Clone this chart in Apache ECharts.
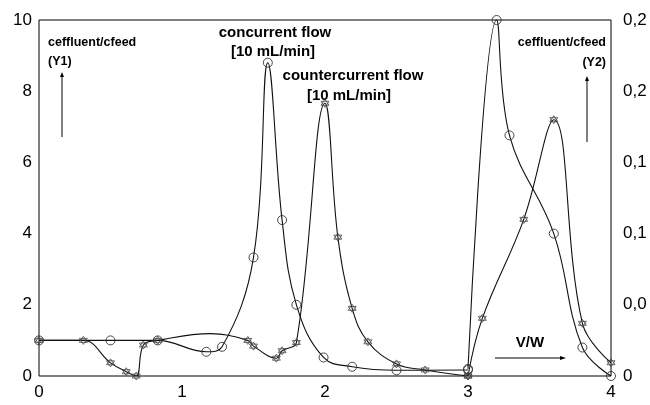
<!DOCTYPE html>
<html><head><meta charset="utf-8">
<script src="https://cdn.jsdelivr.net/npm/echarts@6/dist/echarts.min.js"></script>
<style>html,body{margin:0;padding:0;background:#fff}#c{width:650px;height:405px}</style>
</head><body><div id="c"></div>
<script>
// x = V/W, y = ceffluent/cfeed
var xTicks = [0, 1, 2, 3, 4];
var y1Ticks = [0, 2, 4, 6, 8, 10];
var y2Labels = ['0', '0,0', '0,1', '0,1', '0,2', '0,2'];

// concurrent flow (circles), Y1 part
var concX1 = [0, 0.5, 0.83, 1.17, 1.28, 1.5, 1.6, 1.7, 1.8, 1.99, 2.19, 2.5, 3.0];
var concY1 = [1.0, 1.0, 1.0, 0.68, 0.82, 3.33, 8.8, 4.38, 2.0, 0.52, 0.26, 0.16, 0.17];
// countercurrent flow (stars), Y1 part
var cntX1 = [0, 0.31, 0.5, 0.61, 0.68, 0.73, 0.83, 1.2, 1.46, 1.5, 1.66, 1.7, 1.8, 2.0, 2.09, 2.19, 2.3, 2.5, 2.7, 3.0];
var cntY1 = [1.0, 1.0, 0.37, 0.12, 0.0, 0.87, 1.0, 1.19, 1.0, 0.84, 0.5, 0.71, 0.94, 7.66, 3.9, 1.9, 0.96, 0.34, 0.17, 0.0];
var cntNoMark = [1.2];
// Y2 parts
var concX2 = [3.0, 3.2, 3.29, 3.6, 3.8, 4.0];
var concY2 = [0.005, 0.25, 0.169, 0.100, 0.020, 0.0];
var cntX2 = [3.0, 3.1, 3.39, 3.6, 3.8, 4.0];
var cntY2 = [0.0, 0.0405, 0.110, 0.180, 0.037, 0.0093];

var starPath = 'path://M0,-10L8.66,5L-8.66,5Z M0,10L8.66,-5L-8.66,-5Z';
function pairs(xs, ys, noMark) {
  return xs.map(function (x, i) {
    var d = { value: [x, ys[i]] };
    if (noMark && noMark.indexOf(x) >= 0) d.symbol = 'none';
    return d;
  });
}
var lineStyle = { color: '#111', width: 1.1 };
var circ = { symbol: 'circle', symbolSize: 9, itemStyle: { color: 'rgba(0,0,0,0)', borderColor: '#333', borderWidth: 0.9 } };
var star = { symbol: starPath, symbolSize: 8, itemStyle: { color: 'rgba(0,0,0,0)', borderColor: '#444', borderWidth: 0.8 } };
function mk(name, data, yi, m) {
  return Object.assign({ name: name, type: 'line', data: data, yAxisIndex: yi, smooth: 0.4,
    showAllSymbol: true, lineStyle: lineStyle, z: 3, animation: false }, m);
}
var txt = { fontFamily: 'Liberation Sans, Arial', fontWeight: 'bold', fill: '#000' };
function T(x, y, s, size, align) {
  return { type: 'text', x: x, y: y, style: Object.assign({ text: s, fontSize: size, textAlign: align || 'left', textVerticalAlign: 'middle' }, txt) };
}
function arrowUp(x, y0, y1) {
  return [{ type: 'line', shape: { x1: x, y1: y0, x2: x, y2: y1 + 4 }, style: { stroke: '#000', lineWidth: 1 } },
    { type: 'polygon', shape: { points: [[x, y1], [x - 2, y1 + 5], [x + 2, y1 + 5]] }, style: { fill: '#000' } }];
}
var axFont = { fontSize: 17, color: '#000', fontFamily: 'Liberation Sans, Arial' };
var chart = echarts.init(document.getElementById('c'));
chart.setOption({
  backgroundColor: '#fff',
  animation: false,
  grid: { left: 39, right: 39, top: 20, bottom: 29, show: true, borderColor: '#000', borderWidth: 1 },
  xAxis: { type: 'value', min: xTicks[0], max: xTicks[xTicks.length - 1], interval: 1,
    axisLine: { show: false }, axisTick: { show: false }, splitLine: { show: false },
    axisLabel: Object.assign({ margin: 8 }, axFont) },
  yAxis: [
    { type: 'value', min: y1Ticks[0], max: y1Ticks[y1Ticks.length - 1], interval: 2,
      axisLine: { show: false }, axisTick: { show: false }, splitLine: { show: false },
      axisLabel: Object.assign({ margin: 7 }, axFont) },
    { type: 'value', min: 0, max: 0.25, interval: 0.05, position: 'right',
      axisLine: { show: false }, axisTick: { show: false }, splitLine: { show: false },
      axisLabel: Object.assign({ margin: 12,
        formatter: function (v) { return y2Labels[Math.round(v / 0.05)]; } }, axFont) }
  ],
  series: [
    mk('concurrent Y1', pairs(concX1, concY1), 0, circ),
    mk('countercurrent Y1', pairs(cntX1, cntY1, cntNoMark), 0, star),
    mk('concurrent Y2', pairs(concX2, concY2), 1, circ),
    mk('countercurrent Y2', pairs(cntX2, cntY2), 1, star)
  ],
  graphic: [
    T(48, 43, 'ceffluent/cfeed', 12.5), T(48, 62, '(Y1)', 12.5),
    T(606, 43, 'ceffluent/cfeed', 12.5, 'right'), T(606, 63, '(Y2)', 12.5, 'right'),
    T(275, 33, 'concurrent flow', 15, 'center'), T(273, 52, '[10 mL/min]', 15, 'center'),
    T(353, 76, 'countercurrent flow', 15, 'center'), T(349, 96, '[10 mL/min]', 15, 'center'),
    T(530, 343, 'V/W', 15, 'center'),
    { type: 'line', shape: { x1: 495, y1: 358, x2: 561, y2: 358 }, style: { stroke: '#000', lineWidth: 1 } },
    { type: 'polygon', shape: { points: [[566, 358], [560, 356], [560, 360]] }, style: { fill: '#000' } }
  ].concat(arrowUp(62, 137, 72)).concat(arrowUp(587, 142, 76))
});
</script></body></html>
